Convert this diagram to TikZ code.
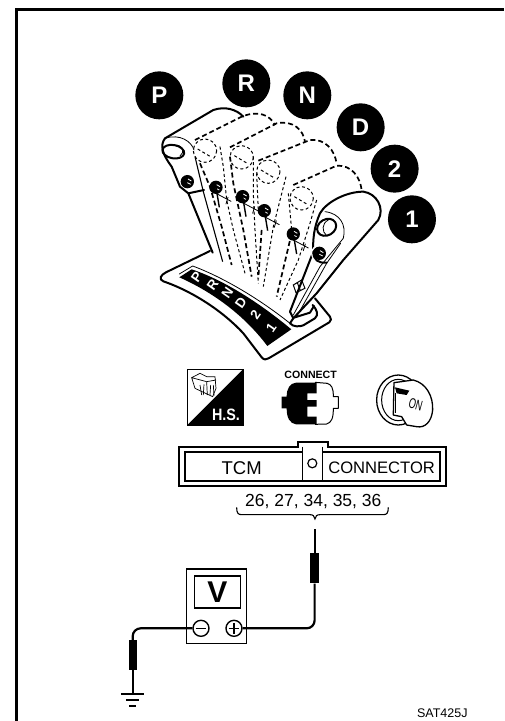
\documentclass[tikz,border=0pt]{standalone}
\usepackage{fontspec}
\setmainfont{Liberation Sans}
\tikzset{
  badge/.style={circle,fill=black,text=white,minimum size=48pt,inner sep=0pt,font=\fontsize{24}{24}\selectfont\bfseries},
  outline/.style={line width=2pt,line cap=round,line join=round},
  thinline/.style={line width=0.8pt,line cap=round},
  heavydash/.style={line width=1.7pt,dash pattern=on 5pt off 3pt},
  lightdash/.style={line width=1pt,dash pattern=on 3pt off 2.5pt},
  gateletter/.style={text=white,inner sep=0pt,rotate=55,font=\fontsize{13.5}{13.5}\selectfont\bfseries},
  wire/.style={line width=2.2pt},
  sleeve/.style={fill=black,minimum width=8.3pt,minimum height=30pt,inner sep=0pt},
  terminal/.style={circle,draw,line width=1.4pt,fill=white,minimum size=16pt,inner sep=0pt},
  zoomed/.style={x=0.3333pt,y=-0.3333pt}
}
\begin{document}
\begin{tikzpicture}[x=1pt,y=-1pt]
  \useasboundingbox (0,0) rectangle (504,721);
  \fill[white] (0,0) rectangle (504,721);
  \draw[line width=3pt] (16.5,721) -- (16.5,9.5) -- (504,9.5);
  % shift lever
  \begin{scope}[shift={(130,70)},zoomed]
    \foreach \posname/\posx/\posy in {P/88/76,R/349/40,N/532/76,D/692/172,2/794/296,1/846/448}
      \node[badge] (badge\posname) at (\posx,\posy) {\posname};
    % gate plate
    \draw[outline,fill=white] (240,543) -- (108,607) .. controls (92,615) and (85,628) .. (100,634)
      .. controls (190,665) and (280,725) .. (340,790) -- (395,862) .. controls (402,870) and (408,870) .. (416,865)
      -- (598,757) .. controls (604,752) and (604,746) .. (600,740) -- (555,685);
    \draw[thinline] (148,612) -- (188,588) .. controls (280,622) and (390,688) .. (480,760);
    \fill (148,622) -- (185,598) .. controls (290,633) and (400,708) .. (484,778) -- (412,828)
      .. controls (350,745) and (260,672) .. (148,622) -- cycle;
    \foreach \gatename/\gatex/\gatey in {P/200/621,R/248/644,N/292/670,D/333/700,2/376/735,1/424/774}
      \node[gateletter] (gate\gatename) at (\gatex,\gatey) {\gatename};
    % park position
    \draw[outline] (105,205) -- (250,120) .. controls (285,108) and (320,118) .. (340,140);
    \draw[outline] (105,205) .. controls (90,225) and (95,250) .. (125,290) -- (150,350) -- (175,370) -- (248,548);
    \draw[outline] (175,370) -- (222,360);
    \draw[thinline] (105,205) .. controls (150,190) and (185,215) .. (192,240);
    \draw[line width=1.1pt] (195,260) -- (220,365) -- (278,575);
    \draw[outline] (130,245) ellipse [x radius=33,y radius=20,rotate=-10];
    \draw[thinline] (140,225) .. controls (160,230) and (165,245) .. (150,258);
    % dashed positions between
    \draw[heavydash] (195,210) -- (335,140) .. controls (385,120) and (420,135) .. (435,165);
    \draw[heavydash] (300,232) -- (440,160) .. controls (490,150) and (520,180) .. (525,215);
    \draw[heavydash] (385,272) -- (540,210) .. controls (585,205) and (615,240) .. (620,282);
    \draw[heavydash] (490,345) -- (620,287) .. controls (665,285) and (690,320) .. (695,360);
    \foreach \knobx/\knoby in {225/242,335/262,415/305,515/385}
      \draw[lightdash] (\knobx,\knoby) circle (35) (\knobx-22,\knoby-5) -- (\knobx+20,\knoby+20);
    \draw[heavydash] (210,280) -- (240,350) -- (275,470) -- (305,585);
    \draw[lightdash] (270,230) -- (280,290) -- (290,390) -- (310,480) -- (345,610);
    \draw[heavydash] (300,260) -- (310,340) -- (340,480) -- (365,620);
    \draw[lightdash] (370,260) -- (370,370) -- (375,480) -- (385,640);
    \draw[lightdash] (380,310) -- (385,420);
    \draw[heavydash] (395,480) -- (385,625);
    \draw[lightdash] (468,320) -- (430,470) -- (400,650);
    \draw[lightdash] (475,370) -- (485,480);
    \draw[heavydash] (485,490) -- (440,680);
    \draw[lightdash] (560,390) -- (540,460) -- (505,570) -- (450,690);
    % bolts on the lever
    \foreach \boltx/\bolty in {172/335,258/352,338/380,403/422,490/492,570/550}{
      \fill (\boltx,\bolty) circle (20);
      \draw[white,line width=0.8pt] (\boltx+2,\bolty-8) -- (\boltx+12,\bolty-2) (\boltx,\bolty+3) -- (\boltx+10,\bolty+8);
    }
    \foreach \boltx/\bolty in {258/352,338/380,403/422,490/492}{
      \draw[line width=1.4pt] (\boltx,\bolty) -- (\boltx+10,\bolty+60);
      \draw[thinline] (\boltx,\bolty+18) -- (\boltx+45,\bolty+42) (\boltx+36,\bolty+30) -- (\boltx+30,\bolty+50);
    }
    % range 1 position
    \draw[outline,fill=white] (490,745) -- (560,670) -- (640,570) -- (745,450)
      .. controls (765,415) and (740,370) .. (700,365) .. controls (650,365) and (590,395) .. (570,430)
      .. controls (552,470) and (548,510) .. (550,545) -- (480,725);
    \draw[outline] (480,725) -- (490,745);
    \draw[thinline] (585,425) .. controls (630,430) and (650,465) .. (640,505) -- (570,590) -- (490,735);
    \draw[thinline] (632,520) -- (590,580) -- (500,740);
    \draw[outline,fill=white] (590,472) ellipse [x radius=30,y radius=24,rotate=30];
    \draw[thinline] (595,450) .. controls (575,460) and (575,485) .. (590,497);
    \fill[white] (568,550) circle (25);
    \fill (568,550) circle (20);
    \draw[white,line width=0.8pt] (570,542) -- (580,548) (568,553) -- (578,558);
    \draw[outline] (550,545) .. controls (550,570) and (565,580) .. (590,578);
    % slot below the lever
    \draw[outline] (490,745) -- (480,760) .. controls (490,772) and (510,770) .. (520,766) -- (555,745)
      .. controls (566,735) and (562,720) .. (548,705);
    \draw[outline] (495,742) -- (540,728) -- (552,708);
    \draw[line width=1pt] (490,645) -- (515,630) -- (525,655) -- (498,668) -- cycle (502,638) -- (511,662);
  \end{scope}
  % service icons
  \begin{scope}[shift={(180,365)},zoomed]
    \draw[line width=0.7pt] (22,12) rectangle (190,180);
    \fill (190,12) -- (190,180) -- (22,180) -- cycle;
    \node[text=white,inner sep=0pt,font=\fontsize{16.5}{16.5}\selectfont\bfseries,xscale=0.87] (hslabel) at (138,148) {H.S.};
    \draw[line width=0.7pt] (35,38) -- (60,25) -- (80,35) -- (105,35) -- (108,70) -- (98,95) -- (45,70) -- cycle
      (35,38) -- (80,50) -- (108,45) (80,50) -- (82,90);
    \draw[line width=0.7pt] (60,60) -- (65,90) (72,58) -- (70,90) (92,60) -- (90,90) (100,60) -- (102,92);
  \end{scope}
  \begin{scope}[shift={(270,365)},zoomed]
    \node[inner sep=0pt,font=\fontsize{10.6}{10.6}\selectfont\bfseries] (connectlabel) at (122,30) {CONNECT};
    \draw[line width=1pt,line join=round] (135,52) -- (172,55) .. controls (185,60) and (190,68) .. (190,95) -- (205,95)
      -- (205,130) -- (190,130) .. controls (190,160) and (185,172) .. (170,177) -- (135,178);
    \fill (35,95) -- (50,95) .. controls (50,70) and (60,55) .. (78,53) -- (140,53) -- (140,85) -- (112,85) -- (112,105)
      -- (140,105) -- (140,125) -- (112,125) -- (112,155) -- (140,155) -- (140,178) -- (78,178)
      .. controls (60,175) and (50,160) .. (50,130) -- (35,130) -- cycle;
  \end{scope}
  \begin{scope}[shift={(150,360)},zoomed]
    \draw[line width=1.3pt] (745,120) ellipse [x radius=65,y radius=75];
    \draw[line width=1pt] (745,120) ellipse [x radius=50,y radius=62];
    \draw[line width=1.3pt,fill=white,line join=round] (732,68) -- (790,60) .. controls (830,70) and (850,110) .. (848,150)
      .. controls (845,185) and (825,205) .. (800,200) -- (770,195) -- (755,170) -- (730,165) -- cycle;
    \fill (735,82) -- (778,92) -- (770,105) -- (740,100) -- cycle;
    \draw[line width=1pt] (738,100) -- (738,160);
    \node[inner sep=0pt,rotate=-15,xscale=0.7,yscale=1.1,font=\fontsize{13}{13}\selectfont] (keylabel) at (797,135) {ON};
    % connector body
    \draw[line width=2pt,line join=miter] (88,260) -- (443,260) -- (443,245) -- (533,245) -- (533,260) -- (888,260) -- (888,378) -- (88,378) -- cycle;
    \draw[line width=2pt] (457,275) -- (105,275) -- (105,362) -- (870,362) -- (870,275) -- (517,275);
    \draw[line width=1.4pt] (457,260) -- (457,362) (517,260) -- (517,362);
    \node[circle,draw,line width=1.2pt,minimum size=9pt,inner sep=0pt] (pinhole) at (487,310) {};
    \node[inner sep=0pt,font=\fontsize{18.5}{18.5}\selectfont] (tcmlabel) at (275,323) {TCM};
    \node[inner sep=0pt,font=\fontsize{16.6}{16.6}\selectfont] (connectorlabel) at (695,323) {CONNECTOR};
    \node[inner sep=0pt,font=\fontsize{17.5}{17.5}\selectfont] (pinlabel) at (490,425) {26, 27, 34, 35, 36};
  \end{scope}
  % voltmeter
  \begin{scope}[shift={(110,510)},zoomed]
    \draw[line width=1.1pt] (380,-8) .. controls (380,10) and (385,14) .. (395,14) -- (600,14)
      .. controls (610,14) and (613,18) .. (615,27) .. controls (617,18) and (620,14) .. (630,14) -- (820,14)
      .. controls (830,14) and (835,10) .. (835,-8);
    \node[draw,line width=1.5pt,minimum width=60pt,minimum height=74.5pt,inner sep=0pt] (meterbox) at (320,288.5) {};
    \node[draw,line width=1.6pt,minimum width=46pt,minimum height=32pt,inner sep=0pt,font=\fontsize{30}{30}\selectfont\bfseries] (meterdial) at (322,246) {V};
    \node[sleeve] (probeplus) at (614,175) {};
    \node[sleeve] (probeminus) at (68,435) {};
    \node[terminal] (termminus) at (273,355) {};
    \node[terminal] (termplus) at (372,355) {};
    \draw[line width=1.4pt] (257,355) -- (289,355) (356,355) -- (388,355) (372,339) -- (372,371);
    \coordinate (probetip) at (614,58);
    \coordinate (groundtop) at (68,552);
    \draw[wire] (probetip) -- (probeplus);
    \draw[wire,rounded corners=8pt] (termplus.east) -- (614,355) -- (probeplus.south);
    \draw[wire,rounded corners=8pt] (termminus.west) -- (68,355) -- (probeminus.north);
    \draw[wire] (probeminus) -- (groundtop);
    \draw[wire] (33,552) -- (103,552) (48,570) -- (88,570) (58,587) -- (78,587);
    \node[inner sep=0pt,font=\fontsize{12.5}{12.5}\selectfont] (partlabel) at (997,610) {SAT425J};
  \end{scope}
\end{tikzpicture}
\end{document}
